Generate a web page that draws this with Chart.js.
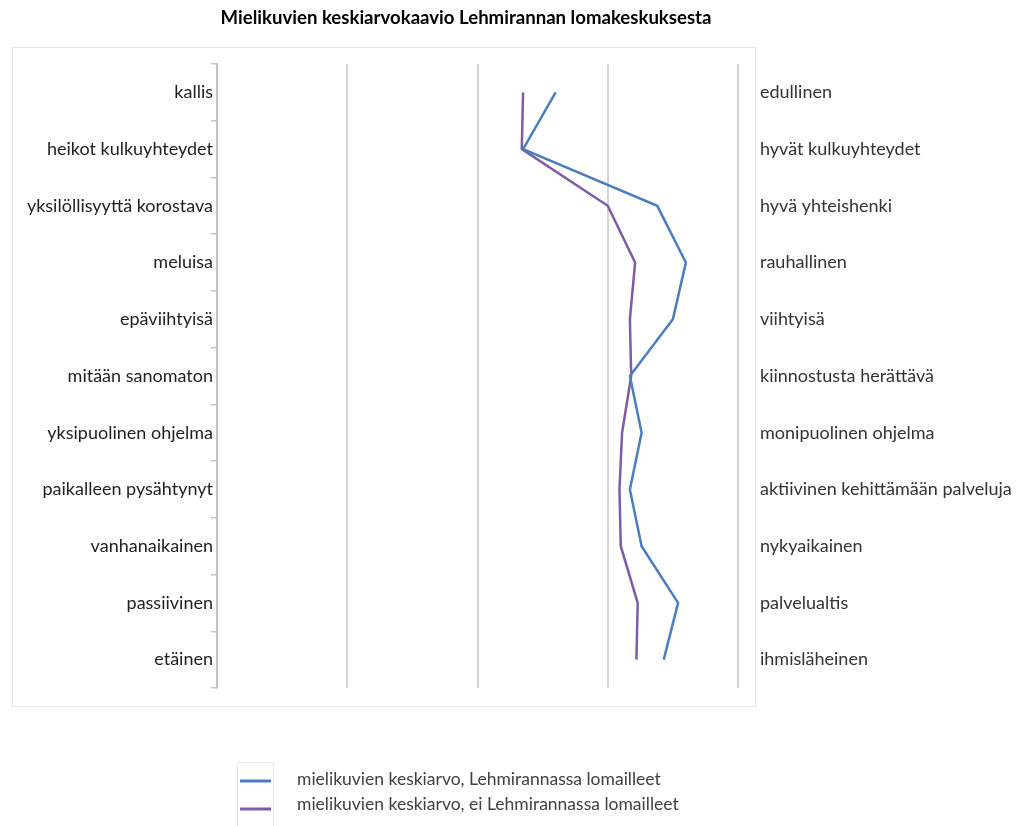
<!DOCTYPE html>
<html>
<head>
<meta charset="utf-8">
<script src="https://cdn.jsdelivr.net/npm/chart.js@4.4.1/dist/chart.umd.min.js"></script>
<style>
  html, body { margin: 0; padding: 0; background: #fff; }
  #wrap { width: 1026px; height: 826px; }
</style>
</head>
<body>
<div id="wrap"><canvas id="kaavio"></canvas></div>
<script>
var vasen = ["kallis", "heikot kulkuyhteydet", "yksilöllisyyttä korostava", "meluisa",
  "epäviihtyisä", "mitään sanomaton", "yksipuolinen ohjelma", "paikalleen pysähtynyt",
  "vanhanaikainen", "passiivinen", "etäinen"];
var oikea = ["edullinen", "hyvät kulkuyhteydet", "hyvä yhteishenki", "rauhallinen",
  "viihtyisä", "kiinnostusta herättävä", "monipuolinen ohjelma", "aktiivinen kehittämään palveluja",
  "nykyaikainen", "palvelualtis", "ihmisläheinen"];
var lomailleet    = [3.60, 3.35, 4.38, 4.60, 4.50, 4.17, 4.26, 4.17, 4.26, 4.54, 4.43];
var eiLomailleet  = [3.35, 3.34, 4.00, 4.21, 4.17, 4.18, 4.11, 4.09, 4.10, 4.23, 4.22];
var asteikko = { min: 1, max: 5, step: 1 };
var otsikko = "Mielikuvien keskiarvokaavio Lehmirannan lomakeskuksesta";

var vari = {
    sininen: "#4a7ebf"
  , violetti: "#7d5ba6"
  , ruudukko: "#d4d4d4"
  , teksti: "#1e1e1e"
};
var fontti = "Lato, 'Open Sans', sans-serif";

// otsikko, kehys ja selite piirretään itse
var koristeet = {
  id: "koristeet",
  beforeDraw: function(chart) {
    var c = chart.ctx, a = chart.chartArea;
    c.save();
    c.strokeStyle = "#e8e8e8";
    c.lineWidth = 1;
    c.strokeRect(a.left - 204.5, a.top - 16.5, 743, 659);
    c.restore();
  },
  afterDraw: function(chart) {
    var c = chart.ctx;
    c.save();
    c.fillStyle = "#000";
    c.font = "bold 18.6px " + fontti;
    c.textAlign = "center";
    c.textBaseline = "middle";
    c.fillText(otsikko, 466, 18);

    c.textAlign = "left";
    c.strokeStyle = "#e8e8e8";
    c.lineWidth = 1;
    c.beginPath();
    c.moveTo(237.5, 826); c.lineTo(237.5, 762.5); c.lineTo(273.5, 762.5); c.lineTo(273.5, 826);
    c.stroke();
    c.font = "17.5px " + fontti;
    chart.data.datasets.forEach(function(ds, i) {
      var y = 779 + i * 25;
      c.strokeStyle = ds.borderColor;
      c.lineWidth = 3;
      c.beginPath();
      c.moveTo(240, y + 2 + i * 3); c.lineTo(271, y + 2 + i * 3);
      c.stroke();
      c.fillStyle = "#404040";
      c.fillText(ds.label, 297, y);
    });
    c.restore();
  }
};

new Chart(document.getElementById("kaavio"), {
  type: "line",
  data: {
    labels: vasen,
    datasets: [
      { label: "mielikuvien keskiarvo, Lehmirannassa lomailleet", data: lomailleet,
        borderColor: vari.sininen, backgroundColor: vari.sininen, borderWidth: 2.5,
        pointRadius: 0, tension: 0 },
      { label: "mielikuvien keskiarvo, ei Lehmirannassa lomailleet", data: eiLomailleet,
        borderColor: vari.violetti, backgroundColor: vari.violetti, borderWidth: 2.5,
        pointRadius: 0, tension: 0 }
    ]
  },
  options: {
    indexAxis: "y",
    responsive: true,
    maintainAspectRatio: false,
    animation: false,
    layout: { padding: { left: 0, right: 0, top: 64, bottom: 0 } },
    plugins: {
      legend: { display: false },
      tooltip: { enabled: false },
      title: { display: false }
    },
    scales: {
      x: {
        type: "linear",
        min: asteikko.min, max: asteikko.max,
        ticks: { display: false, stepSize: asteikko.step },
        grid: { color: vari.ruudukko, lineWidth: 2, drawTicks: false },
        border: { display: false },
        afterFit: function(s) { s.height = 138; }
      },
      y: {
        type: "category",
        position: "left",
        offset: true,
        grid: { offset: true, drawOnChartArea: false, tickLength: 6, color: "#c4c4c4", lineWidth: 1.5 },
        border: { color: "#c4c4c4", width: 2 },
        ticks: { color: vari.teksti, padding: -2, font: { family: fontti, size: 18 } },
        afterFit: function(s) { s.width = 217; }
      },
      y2: {
        type: "category",
        position: "right",
        labels: oikea,
        offset: true,
        grid: { display: false, drawTicks: false },
        border: { display: false },
        ticks: { color: "#333", padding: 22, font: { family: fontti, size: 18 } },
        afterFit: function(s) { s.width = 288; }
      }
    }
  },
  plugins: [koristeet]
});
</script>
</body>
</html>
